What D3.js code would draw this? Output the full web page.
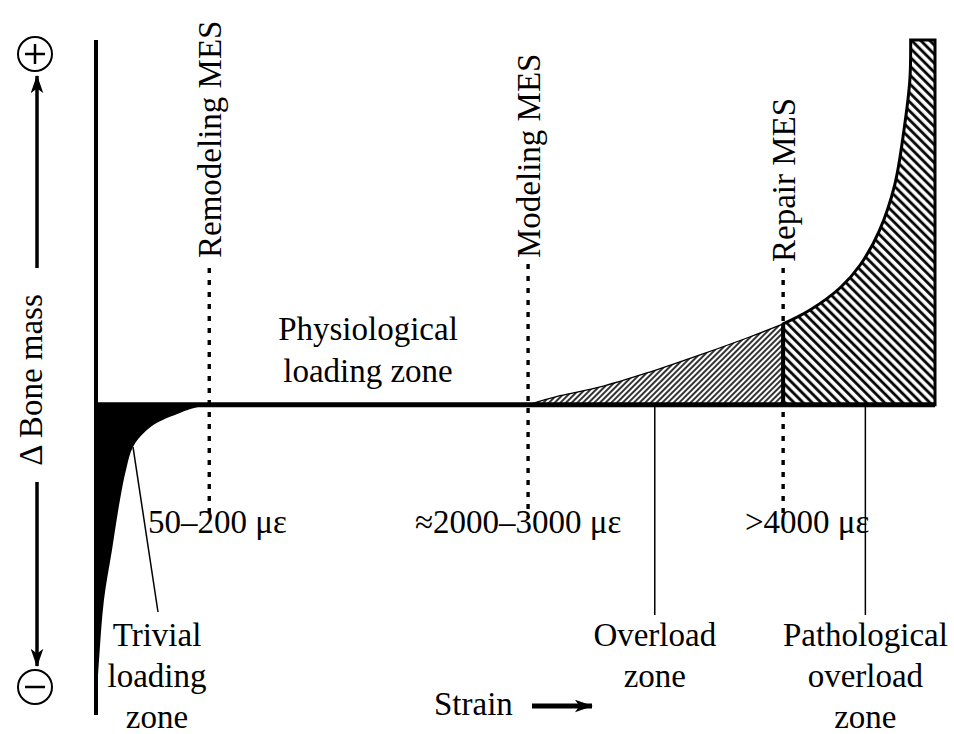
<!DOCTYPE html>
<html>
<head>
<meta charset="utf-8">
<script src="https://cdn.jsdelivr.net/npm/d3@7"></script>
<style>
  body { margin: 0; background: #fff; }
  text { font-family: "Liberation Serif", "DejaVu Serif", serif; fill: #000; }
</style>
</head>
<body>
<div id="chart"></div>
<script>
// strain index (0-100, not linear in microstrain) and change of bone mass (arbitrary)
const trivialX = [0, 0.36, 0.95, 1.91, 2.86, 3.58, 4.41, 5.84, 7.27, 10.0, 11.8, 13.5];
const trivialY = [-83.6, -69.9, -53.4, -39.7, -26.0, -17.8, -11.5, -7.4, -4.9, -2.2, -0.8, 0];

const overloadX = [51.5, 55.3, 60.1, 66.0, 72.0, 77.9, 81.9];
const overloadY = [0, 2.5, 4.9, 9.0, 13.7, 18.6, 22.2];

const pathoX = [81.9, 85.1, 88.7, 91.1, 93.4, 95.2, 96.3, 97.0, 97.1];
const pathoY = [22.2, 26.0, 32.1, 38.4, 47.9, 60.3, 75.3, 89.0, 100];
const pathoEnd = 100;

const mesNames = ["Remodeling MES", "Modeling MES", "Repair MES"];
const mesX = [13.5, 51.5, 81.9];
const mesLabels = ["50–200 με", "≈2000–3000 με", ">4000 με"];

const zoneX = [66.6, 91.7];
const zoneNames = [["Overload", "zone"], ["Pathological", "overload", "zone"]];

let width = 954, height = 734;

let svg = d3.select('#chart')
  .append('svg')
  .attr('width', width)
  .attr('height', height);

let xScale = d3.scaleLinear().domain([0, 100]).range([96, 935]);
let yScale = d3.scaleLinear().domain([-85, 100]).range([715, 40]);

// hatch patterns
const defs = svg.append('defs');
defs.append('pattern')
  .attr('id', 'hatchFine')
  .attr('patternUnits', 'userSpaceOnUse')
  .attr('width', 4).attr('height', 4)
  .attr('patternTransform', 'rotate(45)')
  .append('line')
  .attr('x1', 1).attr('y1', 0).attr('x2', 1).attr('y2', 4)
  .attr('stroke', '#000').attr('stroke-width', 1.6);

defs.append('pattern')
  .attr('id', 'hatchBold')
  .attr('patternUnits', 'userSpaceOnUse')
  .attr('width', 6.4).attr('height', 6.4)
  .attr('patternTransform', 'rotate(-45)')
  .append('line')
  .attr('x1', 1.6).attr('y1', 0).attr('x2', 1.6).attr('y2', 6.4)
  .attr('stroke', '#000').attr('stroke-width', 2.8);

defs.append('marker')
  .attr('id', 'arrow')
  .attr('viewBox', '0 0 20 14')
  .attr('refX', 19).attr('refY', 7)
  .attr('markerWidth', 18).attr('markerHeight', 13)
  .attr('markerUnits', 'userSpaceOnUse')
  .attr('orient', 'auto')
  .append('path')
  .attr('d', 'M0,0 L20,7 L0,14 L5,7 Z')
  .attr('fill', '#000');

// areas
const area = d3.area()
  .x(d => xScale(d[0]))
  .y0(yScale(0))
  .y1(d => yScale(d[1]))
  .curve(d3.curveCatmullRom);

const curveLine = d3.line()
  .x(d => xScale(d[0]))
  .y(d => yScale(d[1]))
  .curve(d3.curveCatmullRom);

const trivial = trivialX.map((x, i) => [x, trivialY[i]]);
const overload = overloadX.map((x, i) => [x, overloadY[i]]);
const patho = pathoX.map((x, i) => [x, pathoY[i]]);

svg.append('path')
  .attr('d', area(trivial))
  .attr('fill', '#000');

svg.append('path')
  .attr('d', area(overload))
  .attr('fill', 'url(#hatchFine)');

svg.append('path')
  .attr('d', curveLine(overload))
  .attr('fill', 'none')
  .attr('stroke', '#000')
  .attr('stroke-width', 1.3);

// pathological zone: curve, flat top, right edge
const pathoTop = patho[patho.length - 1];
const pathoD = curveLine(patho)
  + `L${xScale(pathoEnd)},${yScale(pathoTop[1])}`
  + `L${xScale(pathoEnd)},${yScale(0)}`
  + `L${xScale(patho[0][0])},${yScale(0)}Z`;

svg.append('path')
  .attr('d', pathoD)
  .attr('fill', 'url(#hatchBold)')
  .attr('stroke', '#000')
  .attr('stroke-width', 3)
  .attr('stroke-linejoin', 'miter');

svg.append('line')
  .attr('x1', xScale(81.9)).attr('x2', xScale(81.9))
  .attr('y1', yScale(0)).attr('y2', yScale(22.2))
  .attr('stroke', '#000').attr('stroke-width', 4);

// axes
svg.append('line')
  .attr('x1', xScale(0)).attr('x2', xScale(0))
  .attr('y1', yScale(100)).attr('y2', yScale(-85))
  .attr('stroke', '#000').attr('stroke-width', 4);

svg.append('line')
  .attr('x1', xScale(0)).attr('x2', xScale(100))
  .attr('y1', yScale(0)).attr('y2', yScale(0))
  .attr('stroke', '#000').attr('stroke-width', 5);

// MES dotted lines and labels
const dotTop = [268, 264, 268];
const labelStart = [258, 258, 262];
mesX.forEach((v, i) => {
  svg.append('line')
    .attr('x1', xScale(v)).attr('x2', xScale(v))
    .attr('y1', dotTop[i]).attr('y2', 518)
    .attr('stroke', '#000').attr('stroke-width', 3.4)
    .attr('stroke-dasharray', '5,7');

  svg.append('text')
    .attr('transform', `translate(${xScale(v) + 12},${labelStart[i]}) rotate(-90)`)
    .style('font-size', '33px')
    .text(mesNames[i]);
});

const labelLeft = [148, 415, 745];
mesLabels.forEach((t, i) => {
  svg.append('text')
    .attr('x', labelLeft[i]).attr('y', 533)
    .style('font-size', '33px')
    .text(t);
});

// zone lines and labels
zoneX.forEach((v, i) => {
  svg.append('line')
    .attr('x1', xScale(v)).attr('x2', xScale(v))
    .attr('y1', yScale(0)).attr('y2', 615)
    .attr('stroke', '#000').attr('stroke-width', 1.5);
  zoneNames[i].forEach((t, j) => {
    svg.append('text')
      .attr('x', xScale(v)).attr('y', 646 + j * 41)
      .style('font-size', '33px')
      .style('text-anchor', 'middle')
      .text(t);
  });
});

// trivial zone leader and label
svg.append('line')
  .attr('x1', xScale(4.41)).attr('y1', yScale(-11.5))
  .attr('x2', 158).attr('y2', 612)
  .attr('stroke', '#000').attr('stroke-width', 1.5);

["Trivial", "loading", "zone"].forEach((t, j) => {
  svg.append('text')
    .attr('x', 157).attr('y', 646 + j * 41)
    .style('font-size', '33px')
    .style('text-anchor', 'middle')
    .text(t);
});

["Physiological", "loading zone"].forEach((t, j) => {
  svg.append('text')
    .attr('x', 368).attr('y', 340 + j * 42)
    .style('font-size', '33px')
    .style('text-anchor', 'middle')
    .text(t);
});

// strain label
svg.append('text')
  .attr('x', 434).attr('y', 715)
  .style('font-size', '33px')
  .text('Strain');

svg.append('line')
  .attr('x1', 532).attr('x2', 592)
  .attr('y1', 706).attr('y2', 706)
  .attr('stroke', '#000').attr('stroke-width', 5)
  .attr('marker-end', 'url(#arrow)');

// y axis label with arrows and signs
svg.append('text')
  .attr('transform', 'translate(42,380) rotate(-90)')
  .style('font-size', '33px')
  .style('text-anchor', 'middle')
  .text('Δ Bone mass');

svg.append('line')
  .attr('x1', 37).attr('x2', 37)
  .attr('y1', 268).attr('y2', 76)
  .attr('stroke', '#000').attr('stroke-width', 3.5)
  .attr('marker-end', 'url(#arrow)');

svg.append('line')
  .attr('x1', 37).attr('x2', 37)
  .attr('y1', 482).attr('y2', 666)
  .attr('stroke', '#000').attr('stroke-width', 3.5)
  .attr('marker-end', 'url(#arrow)');

const signY = [54, 687];
signY.forEach((cy, i) => {
  svg.append('circle')
    .attr('cx', 35).attr('cy', cy).attr('r', 17)
    .attr('fill', 'none').attr('stroke', '#000').attr('stroke-width', 2);
  svg.append('line')
    .attr('x1', 25).attr('x2', 45).attr('y1', cy).attr('y2', cy)
    .attr('stroke', '#000').attr('stroke-width', 2.5);
  if (i === 0) {
    svg.append('line')
      .attr('x1', 35).attr('x2', 35).attr('y1', cy - 10).attr('y2', cy + 10)
      .attr('stroke', '#000').attr('stroke-width', 2.5);
  }
});
</script>
</body>
</html>
